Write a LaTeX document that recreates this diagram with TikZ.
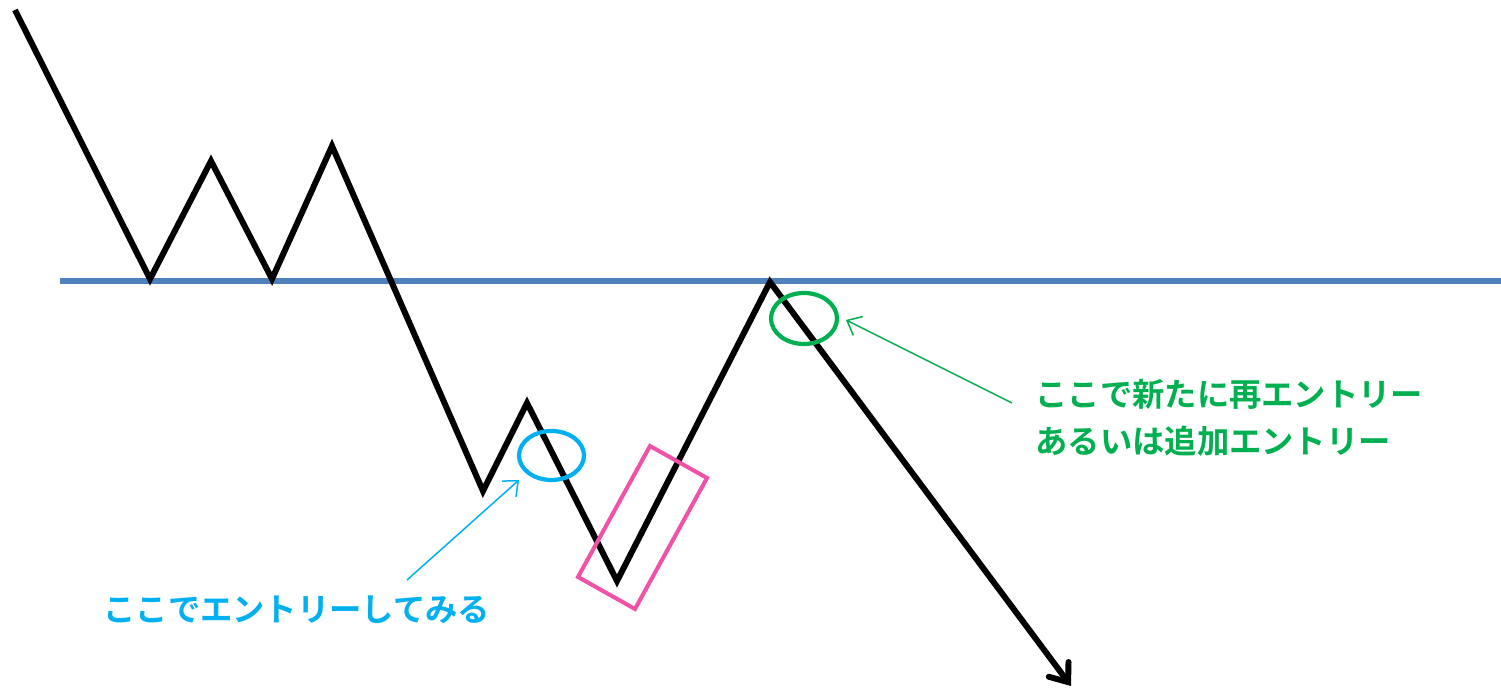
\documentclass[tikz,border=0pt]{standalone}
\usepackage{fontspec}
\newfontfamily\jp{Noto Sans CJK JP}[BoldFont={Noto Sans CJK JP Bold}]
\usetikzlibrary{arrows.meta,shapes.geometric}
\definecolor{lvl}{HTML}{4F81BD}
\definecolor{cy}{HTML}{00B0F0}
\definecolor{gr}{HTML}{00B050}
\definecolor{pk}{HTML}{F052A8}
\tikzset{
  zig/.style={line width=3.4pt, line join=miter, black},
  ring/.style={draw, ellipse, line width=2.4pt, inner sep=0pt},
  thin/.style={line width=0.85pt, -{Straight Barb[length=7pt,width=12pt,line width=0.85pt]}},
  lbl/.style={font=\jp\bfseries\fontsize{18.4pt}{27pt}\selectfont, inner sep=0pt, align=left}
}
\begin{document}
\begin{tikzpicture}[x=0.02cm,y=-0.02cm]
\useasboundingbox (0,0) rectangle (1501,688);
% level line
\coordinate (l1) at (60,281);
\coordinate (l2) at (1501,281);
\draw[lvl, line width=3.4pt] (l1) -- (l2);
% zigzag points
\coordinate (p0) at (15,10);
\coordinate (p1) at (150,279);
\coordinate (p2) at (211,161);
\coordinate (p3) at (272,279);
\coordinate (p4) at (332,146);
\coordinate (p5) at (483,491);
\coordinate (p6) at (527,403);
\coordinate (p7) at (617,581);
\coordinate (p8) at (770,282);
\coordinate (p9) at (1071,686);
\draw[zig, -{Straight Barb[length=9pt,width=14pt,line width=3.4pt,line cap=round]}]
  (p0) -- (p1) -- (p2) -- (p3) -- (p4) -- (p5) -- (p6) -- (p7) -- (p8) -- (p9);
% pink box
\coordinate (r1) at (578,577);
\coordinate (r2) at (650,446);
\coordinate (r3) at (707,478);
\coordinate (r4) at (635,609);
\draw[pk, line width=2.3pt, line join=miter] (r1) -- (r2) -- (r3) -- (r4) -- cycle;
% rings
\node[ring, cy, minimum width=1.3cm, minimum height=0.98cm] (bluering) at (551.5,455.5) {};
\node[ring, gr, minimum width=1.32cm, minimum height=1.02cm] (greenring) at (804,318.5) {};
% labels
\node[lbl, cy, anchor=west] (bluetext) at (103,610) {ここでエントリーしてみる};
\node[lbl, gr, anchor=west] (greentext) at (1035,418) {ここで新たに再エントリー\\あるいは追加エントリー};
% pointers
\coordinate (bt) at (407,580);
\coordinate (bh) at (519,480);
\draw[cy, thin] (bt) -- (bh);
\coordinate (gt) at (1012,403);
\coordinate (gh) at (846,320);
\draw[gr, thin] (gt) -- (gh);
\end{tikzpicture}
\end{document}
